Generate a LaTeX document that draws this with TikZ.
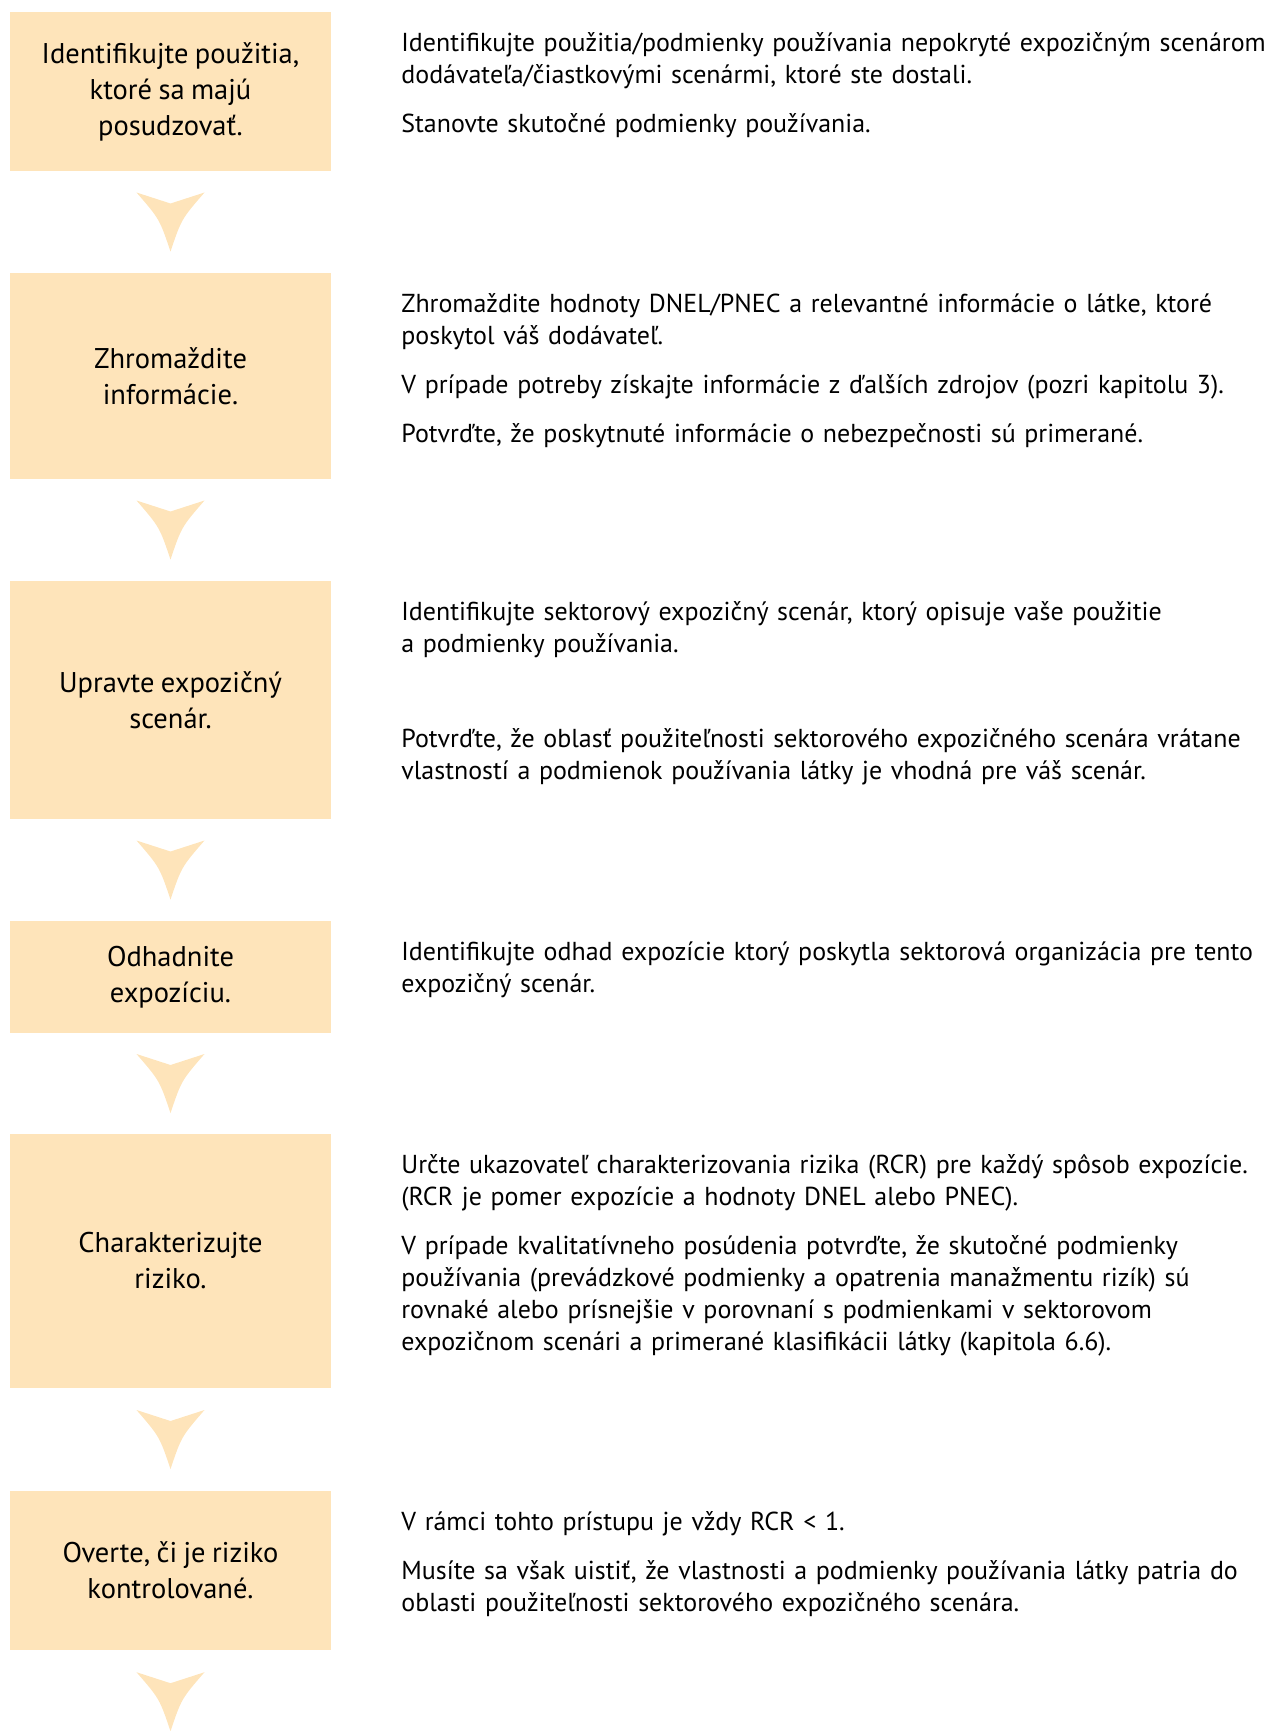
\documentclass[tikz,border=0pt]{standalone}
\usepackage{fontspec}
\setmainfont{PT Sans}[WordSpace=0.85]
\usetikzlibrary{calc}
\definecolor{boxfill}{RGB}{254,228,186}
\newcommand{\psep}{\par\vspace{16.6pt}}
\tikzset{
  stepbox/.style={fill=boxfill, minimum width=321pt, inner sep=0pt, align=center,
    font=\fontsize{28.5}{36}\selectfont},
  desc/.style={anchor=base west, text width=950pt, align=left, inner sep=0pt,
    font=\fontsize{25.95}{32}\selectfont},
  chev/.pic={\fill[boxfill] (-34,-29.5) -- (0,-18.5) -- (34,-29.5)
     .. controls (11,-3) .. (0,29.5) .. controls (-11,-3) .. (-34,-29.5) -- cycle;}
}
\begin{document}
\begin{tikzpicture}[x=1pt,y=-1pt]
\useasboundingbox (0,0) rectangle (1271,1731);
\node[stepbox, minimum height=159pt] (b1) at (170.5,91.5) {Identifikujte použitia,\\ktoré sa majú\\posudzovať.};
\node[stepbox, minimum height=206pt] (b2) at (170.5,376) {Zhromaždite\\informácie.};
\node[stepbox, minimum height=238pt] (b3) at (170.5,700) {Upravte expozičný\\scenár.};
\node[stepbox, minimum height=112pt] (b4) at (170.5,977) {Odhadnite\\expozíciu.};
\node[stepbox, minimum height=254pt] (b5) at (170.5,1261) {Charakterizujte\\riziko.};
\node[stepbox, minimum height=159pt] (b6) at (170.5,1570.5) {Overte, či je riziko\\kontrolované.};

\pic at ($(b1.south)!0.5!(b2.north)$) {chev};
\pic at ($(b2.south)!0.5!(b3.north)$) {chev};
\pic at ($(b3.south)!0.5!(b4.north)$) {chev};
\pic at ($(b4.south)!0.5!(b5.north)$) {chev};
\pic at ($(b5.south)!0.5!(b6.north)$) {chev};
\pic at ($(b6.south)+(0,51.5)$) {chev};

\node[desc] (t1) at ($(b1.north east)+(70,40)$) {Identifikujte použitia/podmienky používania nepokryté expozičným scenárom\\dodávateľa/čiastkovými scenármi, ktoré ste dostali.\psep
Stanovte skutočné podmienky používania.};
\node[desc] (t2) at ($(b2.north east)+(70,40)$) {Zhromaždite hodnoty DNEL/PNEC a relevantné informácie o látke, ktoré\\poskytol váš dodávateľ.\psep
V prípade potreby získajte informácie z ďalších zdrojov (pozri kapitolu 3).\psep
Potvrďte, že poskytnuté informácie o nebezpečnosti sú primerané.};
\node[desc] (t3) at ($(b3.north east)+(70,40)$) {Identifikujte sektorový expozičný scenár, ktorý opisuje vaše použitie\\a podmienky používania.\par\vspace{63pt}
Potvrďte, že oblasť použiteľnosti sektorového expozičného scenára vrátane\\vlastností a podmienok používania látky je vhodná pre váš scenár.};
\node[desc] (t4) at ($(b4.north east)+(70,40)$) {Identifikujte odhad expozície ktorý poskytla sektorová organizácia pre tento\\expozičný scenár.};
\node[desc] (t5) at ($(b5.north east)+(70,40)$) {Určte ukazovateľ charakterizovania rizika (RCR) pre každý spôsob expozície.\\(RCR je pomer expozície a hodnoty DNEL alebo PNEC).\psep
V prípade kvalitatívneho posúdenia potvrďte, že skutočné podmienky\\používania (prevádzkové podmienky a opatrenia manažmentu rizík) sú\\rovnaké alebo prísnejšie v porovnaní s podmienkami v sektorovom\\expozičnom scenári a primerané klasifikácii látky (kapitola 6.6).};
\node[desc] (t6) at ($(b6.north east)+(70,40)$) {V rámci tohto prístupu je vždy RCR < 1.\psep
Musíte sa však uistiť, že vlastnosti a podmienky používania látky patria do\\oblasti použiteľnosti sektorového expozičného scenára.};
\end{tikzpicture}
\end{document}
